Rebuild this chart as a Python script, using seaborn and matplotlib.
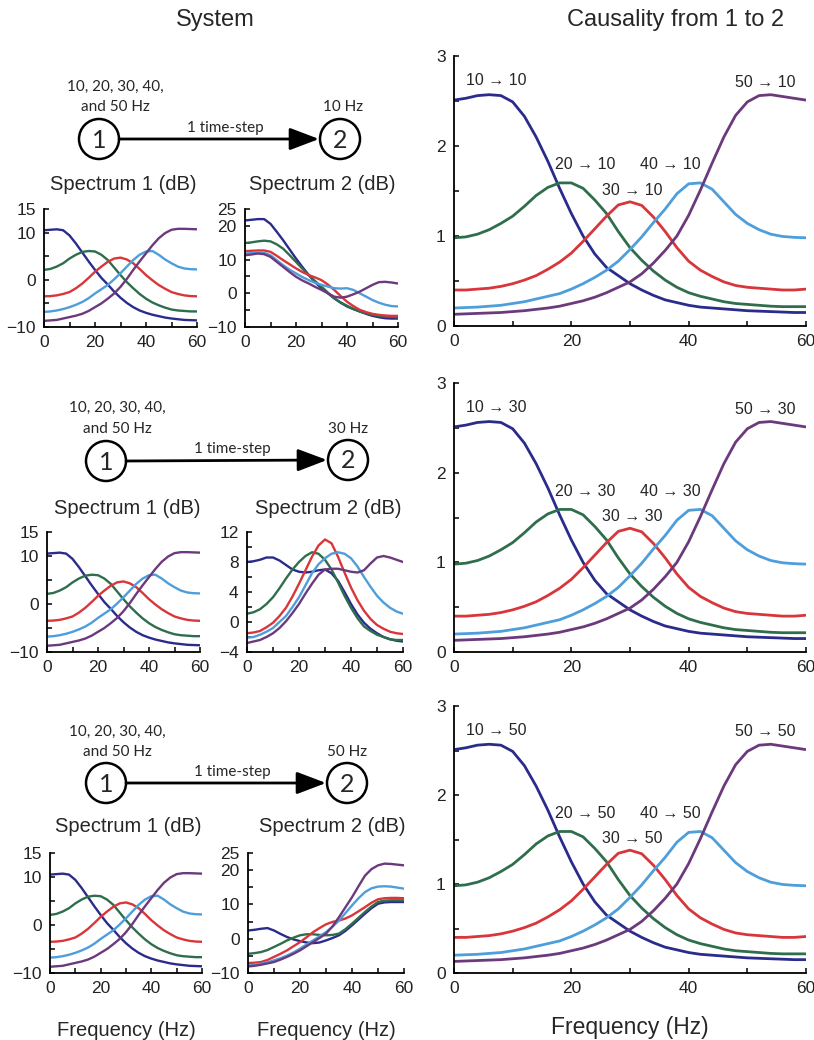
import matplotlib
matplotlib.use("Agg")
import matplotlib.pyplot as plt
from matplotlib.patches import Circle
import pandas as pd
import seaborn as sns

# Frequency grids (Hz)
freq_caus = list(range(0, 61, 2))
freq_spec = [i * 2.5 for i in range(25)]

# Causality from 1 to 2 (same in all three rows)
caus_10 = [2.51, 2.53, 2.56, 2.57, 2.56, 2.49, 2.33, 2.10, 1.83, 1.53, 1.25, 1.00, 0.80, 0.65, 0.56, 0.47,
           0.40, 0.34, 0.29, 0.26, 0.23, 0.21, 0.20, 0.19, 0.18, 0.17, 0.165, 0.16, 0.155, 0.15, 0.15]
caus_20 = [0.98, 0.99, 1.02, 1.07, 1.14, 1.22, 1.33, 1.45, 1.54, 1.59, 1.59, 1.53, 1.40, 1.25, 1.05, 0.87,
           0.73, 0.61, 0.51, 0.43, 0.37, 0.33, 0.30, 0.27, 0.25, 0.24, 0.23, 0.22, 0.215, 0.215, 0.215]
caus_30 = [0.40, 0.40, 0.41, 0.42, 0.44, 0.47, 0.51, 0.56, 0.63, 0.71, 0.81, 0.94, 1.08, 1.22, 1.345, 1.38,
           1.34, 1.21, 1.05, 0.87, 0.72, 0.62, 0.55, 0.49, 0.45, 0.43, 0.42, 0.41, 0.40, 0.40, 0.41]
caus_40 = [0.20, 0.205, 0.21, 0.22, 0.23, 0.25, 0.27, 0.30, 0.33, 0.36, 0.41, 0.47, 0.54, 0.62, 0.72, 0.85,
           0.99, 1.15, 1.30, 1.47, 1.58, 1.59, 1.52, 1.38, 1.24, 1.14, 1.07, 1.02, 0.995, 0.985, 0.98]
caus_50 = [0.13, 0.135, 0.14, 0.145, 0.15, 0.16, 0.17, 0.185, 0.20, 0.22, 0.25, 0.28, 0.32, 0.37, 0.43, 0.49,
           0.58, 0.70, 0.84, 1.00, 1.23, 1.51, 1.81, 2.10, 2.34, 2.49, 2.56, 2.57, 2.55, 2.53, 2.51]

# Spectrum 1 (dB), same in all rows
spec1_10 = [10.5, 10.6, 10.7, 10.5, 9.4, 7.7, 5.8, 3.9, 2.1, 0.4, -1.0, -2.5, -3.8,
            -4.9, -5.8, -6.5, -7.0, -7.4, -7.7, -8.0, -8.2, -8.35, -8.5, -8.55, -8.6]
spec1_20 = [2.1, 2.3, 2.8, 3.5, 4.5, 5.3, 5.9, 6.1, 6.0, 5.3, 4.2, 2.6, 1.0,
            -0.5, -1.8, -3.0, -4.0, -4.8, -5.4, -5.9, -6.3, -6.5, -6.6, -6.7, -6.7]
spec1_30 = [-3.5, -3.45, -3.3, -3.0, -2.6, -1.8, -0.8, 0.4, 1.7, 2.8, 3.8, 4.5, 4.7,
            4.3, 3.5, 2.3, 1.0, -0.1, -1.1, -1.9, -2.6, -3.0, -3.3, -3.45, -3.5]
spec1_40 = [-6.8, -6.7, -6.5, -6.2, -5.8, -5.3, -4.7, -3.9, -2.9, -2.0, -1.1, 0.1, 1.4,
            2.8, 4.2, 5.3, 6.0, 6.1, 5.3, 4.3, 3.5, 2.8, 2.4, 2.25, 2.2]
spec1_50 = [-8.7, -8.6, -8.5, -8.2, -7.9, -7.6, -7.2, -6.6, -5.8, -5.0, -4.0, -2.9, -1.5,
            0.2, 2.1, 3.9, 5.6, 7.3, 8.8, 9.9, 10.6, 10.8, 10.8, 10.75, 10.7]

# Spectrum 2 (dB), node 2 at 10 Hz
to10_10 = [21.6, 21.8, 22.0, 22.0, 20.6, 18.2, 15.7, 13.0, 10.3, 7.8, 5.4, 3.3, 1.5,
           0.0, -1.5, -2.8, -3.9, -4.7, -5.4, -6.1, -6.7, -7.1, -7.4, -7.5, -7.5]
to10_20 = [14.9, 15.1, 15.4, 15.6, 15.4, 14.5, 13.2, 11.3, 9.3, 7.3, 5.4, 3.6, 2.0,
           0.2, -1.5, -2.7, -3.7, -4.6, -5.4, -5.9, -6.4, -6.7, -6.9, -7.0, -7.1]
to10_30 = [12.5, 12.6, 12.7, 12.7, 12.3, 11.1, 9.8, 8.6, 7.4, 6.3, 5.4, 4.7, 3.9,
           2.6, 1.0, -0.8, -2.5, -3.8, -4.9, -5.6, -6.1, -6.4, -6.6, -6.7, -6.7]
to10_40 = [11.8, 11.9, 12.1, 12.0, 11.3, 9.8, 8.3, 7.0, 5.9, 4.8, 3.9, 3.1, 2.5,
           2.0, 1.5, 1.4, 1.5, 1.0, 0.0, -1.0, -2.0, -2.8, -3.4, -3.8, -3.9]
to10_50 = [11.3, 11.5, 11.8, 11.6, 10.8, 9.3, 7.8, 6.3, 4.9, 3.8, 2.9, 1.9, 1.0,
           0.0, -1.0, -1.3, -1.0, -0.3, 0.5, 1.5, 2.5, 3.3, 3.4, 3.2, 2.9]

# Spectrum 2 (dB), node 2 at 30 Hz
to30_10 = [8.0, 8.1, 8.3, 8.6, 8.6, 8.2, 7.6, 7.0, 6.7, 6.6, 6.7, 6.9, 7.0,
           6.5, 5.5, 4.0, 2.4, 1.0, -0.1, -0.9, -1.5, -2.0, -2.3, -2.5, -2.6]
to30_20 = [1.1, 1.3, 1.7, 2.4, 3.3, 4.5, 5.8, 7.0, 8.0, 8.8, 9.3, 9.1, 8.3,
           7.0, 5.3, 3.5, 1.9, 0.5, -0.6, -1.2, -1.7, -2.0, -2.3, -2.4, -2.4]
to30_30 = [-1.5, -1.4, -1.2, -0.7, -0.1, 0.8, 1.9, 3.4, 5.1, 6.9, 8.7, 10.2, 11.0,
           10.5, 8.7, 6.6, 4.6, 2.9, 1.5, 0.4, -0.4, -0.9, -1.3, -1.5, -1.6]
to30_40 = [-2.1, -2.0, -1.7, -1.3, -0.8, 0.0, 0.8, 2.0, 3.3, 4.9, 6.5, 7.7, 8.5,
           9.1, 9.3, 9.1, 8.5, 7.4, 6.0, 4.7, 3.5, 2.6, 1.9, 1.4, 1.1]
to30_50 = [-2.8, -2.6, -2.4, -2.0, -1.5, -0.8, 0.1, 1.2, 2.4, 3.8, 5.1, 6.3, 7.0,
           7.1, 7.1, 6.9, 6.7, 6.6, 6.9, 7.8, 8.6, 8.8, 8.6, 8.3, 8.0]

# Spectrum 2 (dB), node 2 at 50 Hz
to50_10 = [2.4, 2.6, 2.9, 3.1, 2.4, 1.4, 0.5, -0.2, -0.7, -1.1, -1.3, -1.1, -0.5,
           0.2, 1.0, 2.3, 3.9, 5.6, 7.3, 8.9, 10.2, 10.6, 10.7, 10.7, 10.7]
to50_20 = [-4.4, -4.2, -3.9, -3.3, -2.4, -1.5, -0.5, 0.3, 1.0, 1.3, 1.3, 1.1, 1.0,
           1.1, 1.5, 2.8, 4.4, 6.1, 7.8, 9.4, 10.7, 11.1, 11.2, 11.2, 11.2]
to50_30 = [-7.1, -7.0, -6.8, -6.2, -5.3, -4.4, -3.4, -2.2, -1.0, 0.4, 1.9, 3.1, 4.2,
           4.9, 5.3, 5.9, 6.8, 8.0, 9.2, 10.5, 11.5, 11.8, 11.9, 11.9, 11.8]
to50_40 = [-7.8, -7.6, -7.3, -6.9, -6.3, -5.7, -4.9, -4.0, -2.9, -1.7, -0.5, 0.7, 1.9,
           3.5, 5.3, 7.5, 9.7, 11.8, 13.6, 14.7, 15.2, 15.3, 15.2, 14.9, 14.6]
to50_50 = [-8.1, -7.9, -7.6, -7.2, -6.8, -6.1, -5.3, -4.4, -3.4, -2.2, -1.0, 0.2, 1.5,
           3.6, 6.3, 9.2, 12.1, 15.3, 18.4, 20.3, 21.4, 21.9, 21.8, 21.6, 21.4]

sources = ["10", "20", "30", "40", "50"]
targets = ["10", "30", "50"]
colors = ["#2b2b8c", "#2f6e4c", "#d8363a", "#4e9edb", "#6c3a7c"]
palette = dict(zip(sources, colors))

W, H = 814, 1040
sns.set_style("ticks")
plt.rcParams["font.family"] = ["Liberation Sans", "DejaVu Sans"]
plt.rcParams["axes.unicode_minus"] = True

fig = plt.figure(figsize=(W / 100, H / 100), dpi=100)

# overlay in pixel coordinates for the block diagrams and texts
ov = fig.add_axes([0, 0, 1, 1])
ov.set_xlim(0, W)
ov.set_ylim(H, 0)
ov.axis("off")


def px_axes(x0, y0, x1, y1):
    return fig.add_axes([x0 / W, 1 - y1 / H, (x1 - x0) / W, (y1 - y0) / H])


def draw_lines(ax, freqs, curves, lw=1.7):
    df = pd.DataFrame({
        "freq": freqs * len(curves),
        "value": sum(curves, []),
        "source": [s for s in sources for _ in freqs],
    })
    sns.lineplot(data=df, x="freq", y="value", hue="source", palette=palette,
                 estimator=None, legend=False, linewidth=lw, ax=ax)


def style_axes(ax, ylim, yticks, ylabels, fs=12.5):
    ax.set_xlim(0, 60)
    ax.set_ylim(*ylim)
    ax.set_xticks(range(0, 61, 10))
    ax.set_xticklabels(["0", "", "20", "", "40", "", "60"])
    ax.set_yticks(yticks)
    ax.set_yticklabels(ylabels)
    ax.set_xlabel("")
    ax.set_ylabel("")
    for s in ["top", "right"]:
        ax.spines[s].set_visible(False)
    for s in ["left", "bottom"]:
        ax.spines[s].set_linewidth(1.3)
        ax.spines[s].set_color("black")
    ax.tick_params(direction="in", length=3.5, width=1.1, labelsize=fs,
                   bottom=True, left=True, colors="black", labelcolor="#222222", pad=6)
    ax.patch.set_alpha(0)


# titles
fig.text(215 / W, 1 - 20 / H, "System", ha="center", va="center", fontsize=17)
fig.text(676 / W, 1 - 20 / H, "Causality from 1 to 2", ha="center", va="center", fontsize=17)

# per row layout (pixels)
rows = [
    dict(c1=(99, 139), c2=(340, 139), txt=(115, 87, 107), hz=(343, 107), ts=(225, 128),
         s1=(44, 197), s2=(245, 398), sy=(209, 327), tt=(185, 123, 322), big=(56, 326)),
    dict(c1=(106, 461), c2=(348, 460), txt=(117, 408, 429), hz=(348, 429), ts=(232, 449),
         s1=(47, 200), s2=(247, 403), sy=(532, 652), tt=(508, 127, 328), big=(383, 652)),
    dict(c1=(106, 783), c2=(347, 783), txt=(117, 732, 752), hz=(347, 752), ts=(232, 772),
         s1=(50, 202), s2=(248, 404), sy=(853, 973), tt=(827, 128, 332), big=(706, 973)),
]

spec2_sets = [
    [to10_10, to10_20, to10_30, to10_40, to10_50],
    [to30_10, to30_20, to30_30, to30_40, to30_50],
    [to50_10, to50_20, to50_30, to50_40, to50_50],
]
spec2_limits = [
    ((-10, 25), list(range(-10, 26, 5)), ["\u221210", "", "0", "", "10", "", "20", "25"]),
    ((-4, 12), list(range(-4, 13, 2)), ["\u22124", "", "0", "", "4", "", "8", "", "12"]),
    ((-10, 25), list(range(-10, 26, 5)), ["\u221210", "", "0", "", "10", "", "20", "25"]),
]
spec1_curves = [spec1_10, spec1_20, spec1_30, spec1_40, spec1_50]
caus_curves = [caus_10, caus_20, caus_30, caus_40, caus_50]
diag_font = ["Lato", "DejaVu Sans"]

for i, r in enumerate(rows):
    tgt = targets[i]
    # block diagram
    for (cx, cy), lab in [(r["c1"], "1"), (r["c2"], "2")]:
        ov.add_patch(Circle((cx, cy), 20, fill=False, lw=1.8, ec="black"))
        ov.text(cx, cy + 1, lab, ha="center", va="center", fontsize=18, family=diag_font)
    ov.annotate("", xy=(r["c2"][0] - 21, r["c2"][1]), xytext=(r["c1"][0] + 20, r["c1"][1]),
                arrowprops=dict(arrowstyle="-|>,head_length=1.0,head_width=0.38",
                                mutation_scale=18, lw=2.0, color="black", shrinkA=0, shrinkB=0))
    ov.text(r["txt"][0], r["txt"][1], "10, 20, 30, 40,", ha="center", va="center",
            fontsize=11, family=diag_font)
    ov.text(r["txt"][0], r["txt"][2], "and 50 Hz", ha="center", va="center",
            fontsize=11, family=diag_font)
    ov.text(r["hz"][0], r["hz"][1], f"{tgt} Hz", ha="center", va="center",
            fontsize=11, family=diag_font)
    ov.text(r["ts"][0], r["ts"][1], "1 time-step", ha="center", va="center",
            fontsize=11, family=diag_font)

    # spectrum titles
    ov.text(r["tt"][1], r["tt"][0], "Spectrum 1 (dB)", ha="center", va="center", fontsize=14.5)
    ov.text(r["tt"][2], r["tt"][0], "Spectrum 2 (dB)", ha="center", va="center", fontsize=14.5)

    # spectrum 1
    ax1 = px_axes(r["s1"][0], r["sy"][0], r["s1"][1], r["sy"][1])
    draw_lines(ax1, freq_spec, spec1_curves)
    style_axes(ax1, (-10, 15), list(range(-10, 16, 5)),
               ["\u221210", "", "0", "", "10", "15"])

    # spectrum 2
    ax2 = px_axes(r["s2"][0], r["sy"][0], r["s2"][1], r["sy"][1])
    draw_lines(ax2, freq_spec, spec2_sets[i])
    lim, ticks, labs = spec2_limits[i]
    style_axes(ax2, lim, ticks, labs)

    # causality
    axc = px_axes(454, r["big"][0], 806, r["big"][1])
    draw_lines(axc, freq_caus, caus_curves, lw=2.0)
    style_axes(axc, (0, 3), [0, 0.5, 1, 1.5, 2, 2.5, 3],
               ["0", "", "1", "", "2", "", "3"], fs=12.5)
    ann = [("10", 7.2, 2.73), ("20", 22.4, 1.79), ("30", 30.4, 1.51),
           ("40", 36.9, 1.79), ("50", 53.0, 2.71)]
    for src, ax_x, ax_y in ann:
        axc.text(ax_x, ax_y, f"{src} \u2192 {tgt}", ha="center", va="center", fontsize=11.5)

    if i == 2:
        ax1.set_xlabel("Frequency (Hz)", fontsize=14.5, labelpad=18)
        ax2.set_xlabel("Frequency (Hz)", fontsize=14.5, labelpad=18)
        axc.set_xlabel("Frequency (Hz)", fontsize=16.5, labelpad=14)

fig.savefig("out.png", dpi=100, facecolor="white")
